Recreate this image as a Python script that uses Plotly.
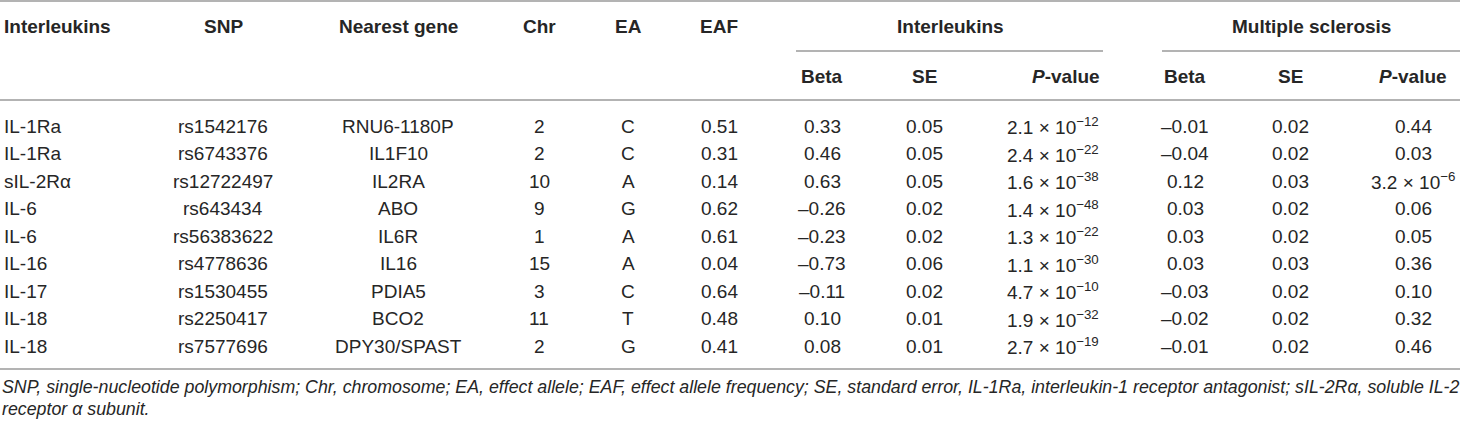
import plotly.graph_objects as go

# ---------------- data ----------------
interleukins = ["IL-1Ra", "IL-1Ra", "sIL-2Rα", "IL-6", "IL-6", "IL-16", "IL-17", "IL-18", "IL-18"]
snps = ["rs1542176", "rs6743376", "rs12722497", "rs643434", "rs56383622",
        "rs4778636", "rs1530455", "rs2250417", "rs7577696"]
genes = ["RNU6-1180P", "IL1F10", "IL2RA", "ABO", "IL6R", "IL16", "PDIA5", "BCO2", "DPY30/SPAST"]
chromosomes = [2, 2, 10, 9, 1, 15, 3, 11, 2]
effect_alleles = ["C", "C", "A", "G", "A", "A", "C", "T", "G"]
eaf = [0.51, 0.31, 0.14, 0.62, 0.61, 0.04, 0.64, 0.48, 0.41]
il_beta = [0.33, 0.46, 0.63, -0.26, -0.23, -0.73, -0.11, 0.10, 0.08]
il_se = [0.05, 0.05, 0.05, 0.02, 0.02, 0.06, 0.02, 0.01, 0.01]
il_p_mant = [2.1, 2.4, 1.6, 1.4, 1.3, 1.1, 4.7, 1.9, 2.7]
il_p_exp = [-12, -22, -38, -48, -22, -30, -10, -32, -19]
ms_beta = [-0.01, -0.04, 0.12, 0.03, 0.03, 0.03, -0.03, -0.02, -0.01]
ms_se = [0.02, 0.02, 0.03, 0.02, 0.02, 0.03, 0.02, 0.02, 0.02]
ms_p = ["0.44", "0.03", "3.2 × 10<sup>−6</sup>", "0.06", "0.05", "0.36", "0.10", "0.32", "0.46"]

header_top = ["Interleukins", "SNP", "Nearest gene", "Chr", "EA", "EAF"]
group_labels = ["Interleukins", "Multiple sclerosis"]
header_sub = ["Beta", "SE", "<i>P</i>-value", "Beta", "SE", "<i>P</i>-value"]
footnote_lines = [
    "SNP, single-nucleotide polymorphism; Chr, chromosome; EA, effect allele; EAF, effect allele "
    "frequency; SE, standard error, IL-1Ra, interleukin-1 receptor antagonist; sIL-2Rα, soluble IL-2",
    "receptor α subunit.",
]

# ---------------- layout / style ----------------
W, H = 1460, 426
ROW0, ROWH = 126, 27.5
HEAD1_Y, HEAD2_Y = 26, 76
TOP_LINE, SUB_LINE, HEAD_LINE, BOTTOM_LINE = 1, 51, 100, 369
FOOT_Y = [387, 409]
LINE_COLOR = "#9a9a9a"
TXT = "#262626"
FONT = "Liberation Sans, Arial, sans-serif"
DATA_SIZE = 19
HEAD_SIZE = 19
FOOT_SIZE = 17.8

col_x_top = [2, 223, 398, 539, 628, 719]
group_x = [950, 1311]
group_span = [(796, 1103), (1162, 1460)]
col_x_sub_head = [822, 924, 1066, 1185, 1290, 1413]
col_x_sub_data = [822, 924, 1053, 1185, 1290, 1413]


def fmt(v):
    return f"{v:.2f}".replace("-", "–")


rows_y = [ROW0 + ROWH * i for i in range(len(snps))]

columns = [
    interleukins,
    snps,
    genes,
    [str(c) for c in chromosomes],
    effect_alleles,
    [fmt(v) for v in eaf],
    [fmt(v) for v in il_beta],
    [fmt(v) for v in il_se],
    [f"{m} × 10<sup>{str(e).replace('-', '−')}</sup>" for m, e in zip(il_p_mant, il_p_exp)],
    [fmt(v) for v in ms_beta],
    [fmt(v) for v in ms_se],
    ms_p,
]
col_x_data = col_x_top + col_x_sub_data

fig = go.Figure()


def put(text, x, y, size, bold=False, anchor="center"):
    fig.add_annotation(
        x=x, y=y, xref="x", yref="y", text=text, showarrow=False,
        xanchor=anchor, yanchor="middle",
        font=dict(family=FONT, size=size, color=TXT, weight="bold" if bold else "normal"),
    )


# body cells
for ci, (texts, cx) in enumerate(zip(columns, col_x_data)):
    for t, ry in zip(texts, rows_y):
        put(t, cx, ry, DATA_SIZE, anchor="left" if ci == 0 else "center")

# header row 1
for i, (t, cx) in enumerate(zip(header_top, col_x_top)):
    put(t, cx, HEAD1_Y, HEAD_SIZE, bold=True, anchor="left" if i == 0 else "center")
for t, cx in zip(group_labels, group_x):
    put(t, cx, HEAD1_Y, HEAD_SIZE, bold=True)
# header row 2
for t, cx in zip(header_sub, col_x_sub_head):
    put(t, cx, HEAD2_Y, HEAD_SIZE, bold=True)

# rules
for yy in (TOP_LINE, HEAD_LINE, BOTTOM_LINE):
    fig.add_shape(type="line", x0=0, x1=W, y0=yy, y1=yy, xref="x", yref="y",
                  line=dict(color=LINE_COLOR, width=1.5))
for x0, x1 in group_span:
    fig.add_shape(type="line", x0=x0, x1=x1, y0=SUB_LINE, y1=SUB_LINE, xref="x", yref="y",
                  line=dict(color=LINE_COLOR, width=1.5))

# footnote
for line, fy in zip(footnote_lines, FOOT_Y):
    put(f"<i>{line}</i>", 0, fy, FOOT_SIZE, anchor="left")

fig.update_layout(
    width=W, height=H, margin=dict(l=0, r=0, t=0, b=0),
    paper_bgcolor="white", plot_bgcolor="white",
    xaxis=dict(range=[0, W], visible=False, fixedrange=True),
    yaxis=dict(range=[H, 0], visible=False, fixedrange=True),
)

fig.write_html("out.html", config={"displayModeBar": False, "staticPlot": True},
               post_script="document.body.style.margin='0';document.body.style.overflow='hidden';")
